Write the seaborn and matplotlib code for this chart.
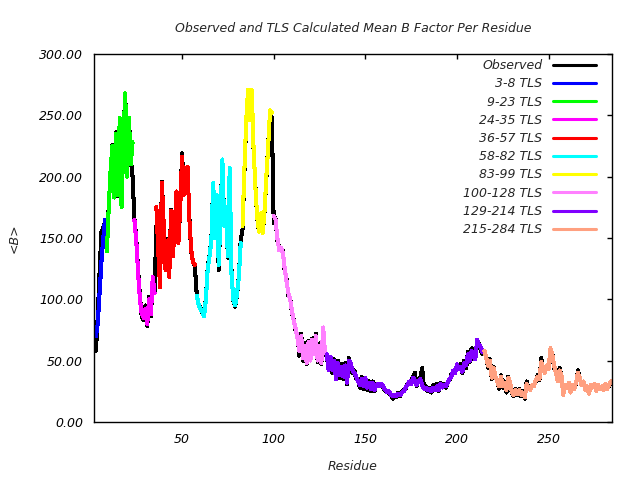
import matplotlib
matplotlib.use("Agg")
import matplotlib.pyplot as plt
import seaborn as sns
import numpy as np

# observed mean B per residue, residues 2..284
obs_start = 2
observed = [
    65, 58, 86, 122, 155, 158, 163, 147, 176,
    204, 226, 183, 236, 184, 247, 175, 231, 268, 202,
    248, 215, 200, 166, 150, 124, 103, 86, 83, 95,
    78, 102, 86, 116, 105, 160, 140, 112, 196, 160,
    124, 149, 118, 173, 135, 160, 188, 147, 174, 219,
    185, 199, 207, 166, 139, 130, 127, 104, 96, 93,
    89, 86, 101, 126, 136, 149, 195, 150, 184, 124,
    168, 214, 161, 174, 134, 207, 121, 99, 94, 104,
    119, 148, 157, 203, 244, 270, 246, 270, 223, 193,
    166, 155, 170, 154, 171, 199, 226, 253, 248, 162,
    166, 148, 142, 140, 140, 123, 117, 103, 101, 88,
    83, 74, 70, 54, 72, 50, 64, 47, 66, 52,
    68, 56, 72, 49, 64, 47, 75, 57, 53, 44,
    52, 40, 51, 36, 50, 36, 47, 35, 48, 31,
    52, 46, 40, 42, 35, 34, 28, 37, 27, 35,
    26, 33, 25, 33, 25, 31, 29, 30, 30, 27,
    25, 25, 23, 22, 19, 22, 20, 24, 21, 25,
    26, 27, 31, 32, 33, 37, 40, 29, 34, 36,
    44, 27, 29, 25, 28, 24, 30, 26, 31, 25,
    32, 28, 31, 28, 33, 34, 39, 41, 42, 46,
    44, 47, 40, 50, 44, 57, 49, 60, 51, 53,
    66, 64, 58, 55, 56, 53, 44, 51, 35, 45,
    36, 34, 27, 38, 28, 33, 24, 37, 31, 23,
    21, 27, 22, 27, 21, 25, 19, 33, 27, 27,
    29, 30, 33, 38, 34, 52, 42, 41, 45, 44,
    58, 56, 44, 42, 34, 44, 37, 23, 29, 29,
    31, 25, 29, 28, 31, 42, 35, 31, 32, 27,
    28, 24, 29, 29, 30, 26, 29, 28, 28, 27,
    30, 28, 29, 33,
]

# TLS calculated B per group
tls_3_8 = [70, 80, 105, 130, 150, 165]
tls_9_23 = [139, 175, 205, 225, 183, 235, 185, 248, 175, 230, 268, 200, 248, 210, 228]
tls_24_35 = [165, 148, 122, 100, 88, 85, 92, 80, 100, 88, 118, 105]
tls_36_57 = [175, 140, 110, 195, 160, 124, 148, 118, 172, 135, 160, 188,
             146, 175, 216, 185, 198, 208, 165, 140, 130, 128]
tls_58_82 = [103, 96, 92, 90, 86, 100, 125, 135, 148, 195, 150, 185, 128,
             168, 214, 160, 175, 135, 207, 120, 100, 95, 105, 118, 146]
tls_83_99 = [160, 205, 245, 271, 246, 271, 224, 192, 167, 155, 170, 154,
             172, 200, 225, 254, 252]
tls_100_128 = [168, 165, 150, 140, 142, 138, 125, 115, 105, 100, 90, 82, 76,
               68, 58, 70, 52, 62, 48, 65, 50, 67, 55, 70, 50, 62, 48, 77, 56]
tls_129_214 = [55, 42, 53, 42, 50, 35, 48, 38, 45, 37, 46, 32, 50, 48, 42,
               40, 37, 33, 30, 35, 29, 36, 28, 32, 27, 32, 26, 30, 31, 29,
               31, 28, 26, 24, 25, 22, 21, 22, 21, 23, 22, 24, 25, 28, 30,
               33, 31, 36, 34, 30, 33, 35, 30, 27, 28, 26, 27, 25, 28, 26,
               29, 26, 31, 28, 30, 29, 32, 35, 37, 42, 40, 47, 43, 45, 41,
               48, 46, 55, 50, 58, 53, 51, 67, 63, 61, 57]
tls_215_284 = [58, 52, 46, 50, 36, 44, 37, 33, 29, 37, 29, 32, 26, 36, 32,
               24, 22, 26, 23, 26, 22, 24, 20, 31, 28, 26, 30, 29, 34, 37,
               35, 49, 44, 40, 46, 43, 60, 55, 46, 40, 33, 42, 38, 22, 30,
               28, 32, 24, 30, 27, 32, 40, 36, 30, 33, 26, 29, 23, 30, 28,
               31, 25, 30, 27, 29, 26, 31, 27, 30, 33]

groups = [
    ("3-8 TLS", 3, tls_3_8, "#0000ff"),
    ("9-23 TLS", 9, tls_9_23, "#00ff00"),
    ("24-35 TLS", 24, tls_24_35, "#ff00ff"),
    ("36-57 TLS", 36, tls_36_57, "#ff0000"),
    ("58-82 TLS", 58, tls_58_82, "#00ffff"),
    ("83-99 TLS", 83, tls_83_99, "#ffff00"),
    ("100-128 TLS", 100, tls_100_128, "#ff80ff"),
    ("129-214 TLS", 129, tls_129_214, "#8000ff"),
    ("215-284 TLS", 215, tls_215_284, "#ffa080"),
]

sns.set_theme(style="white")
plt.rcParams["font.family"] = ["DejaVu Sans"]
plt.rcParams["font.style"] = "italic"
plt.rcParams["font.size"] = 9

fig = plt.figure(figsize=(6.4, 4.8), dpi=100)
ax = fig.add_axes([0.147, 0.121, 0.809, 0.7665])

res_obs = np.arange(obs_start, obs_start + len(observed))
sns.lineplot(x=res_obs, y=observed, color="black", linewidth=2.2,
             label="Observed", ax=ax, antialiased=False)
for name, start, vals, col in groups:
    sns.lineplot(x=np.arange(start, start + len(vals)), y=vals, color=col,
                 linewidth=2.2, label=name, ax=ax, antialiased=False)

ax.set_xlim(2, 284.5)
ax.set_ylim(0, 300)
ax.set_xticks([50, 100, 150, 200, 250])
ax.set_yticks(np.arange(0, 301, 50))
ax.yaxis.set_major_formatter(matplotlib.ticker.FormatStrFormatter("%.2f"))
ax.tick_params(direction="in", length=3.6, width=1, top=True, right=True,
               pad=8, labelsize=9, colors="black")
for sp in ax.spines.values():
    sp.set_color("black")
    sp.set_linewidth(1)

ax.set_title("Observed and TLS Calculated Mean B Factor Per Residue",
             fontsize=9, pad=16)
ax.set_xlabel("Residue", fontsize=9, labelpad=10)
ax.set_ylabel("<B>", fontsize=9, labelpad=13)

leg = ax.legend(loc="upper right", bbox_to_anchor=(0.979, 1.0),
                borderaxespad=0, frameon=False, markerfirst=False,
                fontsize=9, handlelength=3.4, handletextpad=0.9,
                labelspacing=0.42)
for t in leg.get_texts():
    t.set_ha("right")

fig.savefig("out.png", dpi=100)
